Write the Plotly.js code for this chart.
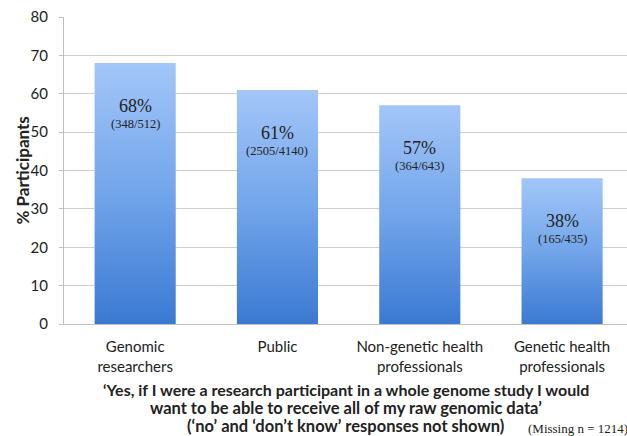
<!DOCTYPE html>
<html>
<head>
<meta charset="utf-8">
<script src="https://cdn.plot.ly/plotly-3.0.1.min.js"></script>
<style>html,body{margin:0;padding:0;background:#fff;}#chart{width:627px;height:436px;}</style>
</head>
<body>
<div id="chart"></div>
<script>
const categories = ["Genomic<br>researchers", "Public", "Non-genetic health<br>professionals", "Genetic health<br>professionals"];
const percents = [68, 61, 57, 38];
const counts = ["(348/512)", "(2505/4140)", "(364/643)", "(165/435)"];
const yTicks = [0, 10, 20, 30, 40, 50, 60, 70, 80];
const titleLines = [
  "\u2018Yes, if I were a research participant in a whole genome study I would",
  "want to be able to receive all of my raw genomic data\u2019",
  "(\u2018no\u2019 and \u2018don\u2019t know\u2019 responses not shown)"
];
const missingNote = "(Missing n = 1214)";

const sans = "Lato, 'Open Sans', sans-serif";
const serif = "'Liberation Serif', 'DejaVu Serif', serif";

const trace = {
  type: "bar",
  x: categories,
  y: percents,
  width: 0.57,
  marker: { color: "#6a9fe6", line: { width: 0 } },
  hoverinfo: "none"
};

const annotations = [];
categories.forEach((c, i) => {
  annotations.push({
    x: c, y: percents[i], xref: "x", yref: "y",
    yanchor: "middle", yshift: -43, showarrow: false,
    text: percents[i] + "%",
    font: { family: serif, size: 18, color: "#222" }
  });
  annotations.push({
    x: c, y: percents[i], xref: "x", yref: "y",
    yanchor: "middle", yshift: -61, showarrow: false,
    text: counts[i],
    font: { family: serif, size: 12.5, color: "#222" }
  });
});

annotations.push({
  xref: "paper", yref: "paper", x: -0.0746, xanchor: "center", y: 0.5, yanchor: "middle",
  textangle: -90, showarrow: false,
  text: "<b>% Participants</b>",
  font: { family: sans, size: 17, color: "#222" }
});

// bottom title, one annotation per line (pixel centres 389, 408, 426 -> paper units)
const titleCentresPx = [389, 408, 426];
titleLines.forEach((line, i) => {
  annotations.push({
    xref: "paper", yref: "paper", x: 0.5, xanchor: "center",
    y: -(titleCentresPx[i] - 324) / 307, yanchor: "middle",
    showarrow: false,
    text: "<b>" + line + "</b>",
    font: { family: sans, size: i === 0 ? 16 : 16.5, color: "#222" }
  });
});

annotations.push({
  xref: "paper", yref: "paper", x: 0.8206, xanchor: "left", y: -0.339, yanchor: "middle",
  showarrow: false,
  text: missingNote,
  font: { family: serif, size: 13, color: "#222" }
});

const layout = {
  width: 627, height: 436,
  margin: { l: 64, r: 0, t: 17, b: 112 },
  paper_bgcolor: "#fff", plot_bgcolor: "#fff",
  showlegend: false,
  xaxis: {
    type: "category",
    range: [-0.5, 3.456],
    showline: true, linecolor: "#bfbfbf", linewidth: 1,
    ticks: "", showgrid: false,
    ticklabelstandoff: 9,
    tickfont: { family: sans, size: 15, color: "#222" },
    fixedrange: true
  },
  yaxis: {
    range: [0, 80],
    tickvals: yTicks,
    ticks: "outside", ticklen: 4, tickcolor: "#bfbfbf",
    ticklabelstandoff: 8,
    showline: true, linecolor: "#bfbfbf", linewidth: 1,
    showgrid: true, gridcolor: "#cfcfcf", gridwidth: 1,
    zeroline: false,
    tickfont: { family: sans, size: 15, color: "#222" },
    fixedrange: true
  },
  annotations: annotations
};

Plotly.newPlot("chart", [trace], layout, { displayModeBar: false, staticPlot: true }).then(() => {
  const svg = document.querySelector("#chart .main-svg");
  const ns = "http://www.w3.org/2000/svg";
  let defs = svg.querySelector("defs");
  if (!defs) { defs = document.createElementNS(ns, "defs"); svg.insertBefore(defs, svg.firstChild); }
  const grad = document.createElementNS(ns, "linearGradient");
  grad.setAttribute("id", "barGrad");
  grad.setAttribute("x1", "0"); grad.setAttribute("y1", "0");
  grad.setAttribute("x2", "0"); grad.setAttribute("y2", "1");
  [["0", "#a3c6f8"], ["0.5", "#72a5ea"], ["1", "#3b79d2"]].forEach(([o, c]) => {
    const s = document.createElementNS(ns, "stop");
    s.setAttribute("offset", o); s.setAttribute("stop-color", c);
    grad.appendChild(s);
  });
  defs.appendChild(grad);
  document.querySelectorAll("#chart .barlayer .point path").forEach(p => {
    p.style.fill = "url(#barGrad)";
  });
});
</script>
</body>
</html>
